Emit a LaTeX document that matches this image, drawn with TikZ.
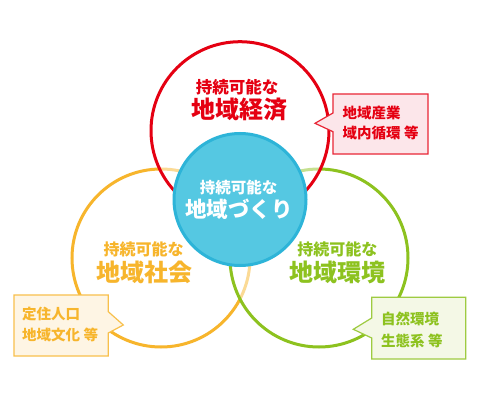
\documentclass[tikz,border=0pt]{standalone}
\usepackage{fontspec}
\newfontfamily\jp{Noto Sans CJK JP}
\definecolor{cRed}{HTML}{E50012}
\definecolor{cOrange}{HTML}{F7B52C}
\definecolor{cGreen}{HTML}{8DC21F}
\definecolor{cBlue}{HTML}{55C8E2}
\definecolor{cBlueD}{HTML}{2DB4D8}
\definecolor{cPink}{HTML}{FCE6EA}
\definecolor{cCream}{HTML}{FEF5E4}
\definecolor{cLime}{HTML}{F4F8E6}
\begin{document}
\begin{tikzpicture}[x=1pt,y=1pt,
  ring/.style={line width=3pt, fill=white, fill opacity=0.5},
  callout/.style={line width=1.2pt, line join=miter},
  txt/.style={inner sep=0pt, anchor=base, font=\jp\bfseries},
  boxtxt/.style={inner sep=0pt, anchor=base west, font=\jp\bfseries\fontsize{14.5}{14.5}\selectfont},
  small/.style={font=\jp\bfseries\fontsize{16.5}{16.5}\selectfont},
  big/.style={font=\jp\bfseries\fontsize{24}{24}\selectfont}]
\useasboundingbox (0,0) rectangle (480,400);
\fill[white] (0,0) rectangle (480,400);
% circles
\path[ring, draw=cOrange] (161,142) circle (89);
\path[ring, draw=cGreen] (319,142) circle (89);
\path[ring, draw=cRed] (240,269.3) circle (89);
\path[draw=cBlueD, fill=cBlue, line width=3pt] (240,200.5) circle (66);
% circle texts
\node[txt, small, text=cRed] (econS) at (237,306.5) {持続可能な};
\node[txt, big, text=cRed] (econB) at (239.5,282) {地域経済};
\node[txt, text=white, font=\jp\bfseries\fontsize{15.5}{15.5}\selectfont] (centS) at (238.7,206.6) {持続可能な};
\node[txt, text=white, font=\jp\bfseries\fontsize{21.5}{21.5}\selectfont] (centB) at (239,182.8) {地域づくり};
\node[txt, small, text=cOrange, font=\jp\bfseries\fontsize{16}{16}\selectfont] (socS) at (143.7,144.9) {持続可能な};
\node[txt, big, text=cOrange] (socB) at (144,118.9) {地域社会};
\node[txt, small, text=cGreen, font=\jp\bfseries\fontsize{16}{16}\selectfont] (envS) at (337.3,144.9) {持続可能な};
\node[txt, big, text=cGreen] (envB) at (337.7,118.9) {地域環境};
% callouts
\draw[callout, draw=cRed!85, fill=cPink] (333,306) -- (428,306) -- (428,246) -- (333,246) -- (333,268.3) -- (315,276.7) -- (333,287) -- cycle;
\draw[callout, draw=cOrange!85, fill=cCream] (14,105) -- (108.3,105) -- (108.3,88.3) -- (123.3,75) -- (108.3,67) -- (108.3,44) -- (14,44) -- cycle;
\draw[callout, draw=cGreen!85, fill=cLime] (371.7,102.7) -- (465.7,102.7) -- (465.7,41) -- (371.7,41) -- (371.7,62) -- (353.3,70.7) -- (371.7,82) -- cycle;
% callout texts
\node[boxtxt, text=cRed] (ecoA) at (342.5,281.9) {地域産業};
\node[boxtxt, text=cRed] (ecoB) at (342.5,261.4) {域内循環 等};
\node[boxtxt, text=cOrange] (socA) at (22,80.7) {定住人口};
\node[boxtxt, text=cOrange] (socBb) at (22,59.7) {地域文化 等};
\node[boxtxt, text=cGreen] (envA) at (381,75.2) {自然環境};
\node[boxtxt, text=cGreen] (envBb) at (381,53.7) {生態系 等};
\end{tikzpicture}
\end{document}
